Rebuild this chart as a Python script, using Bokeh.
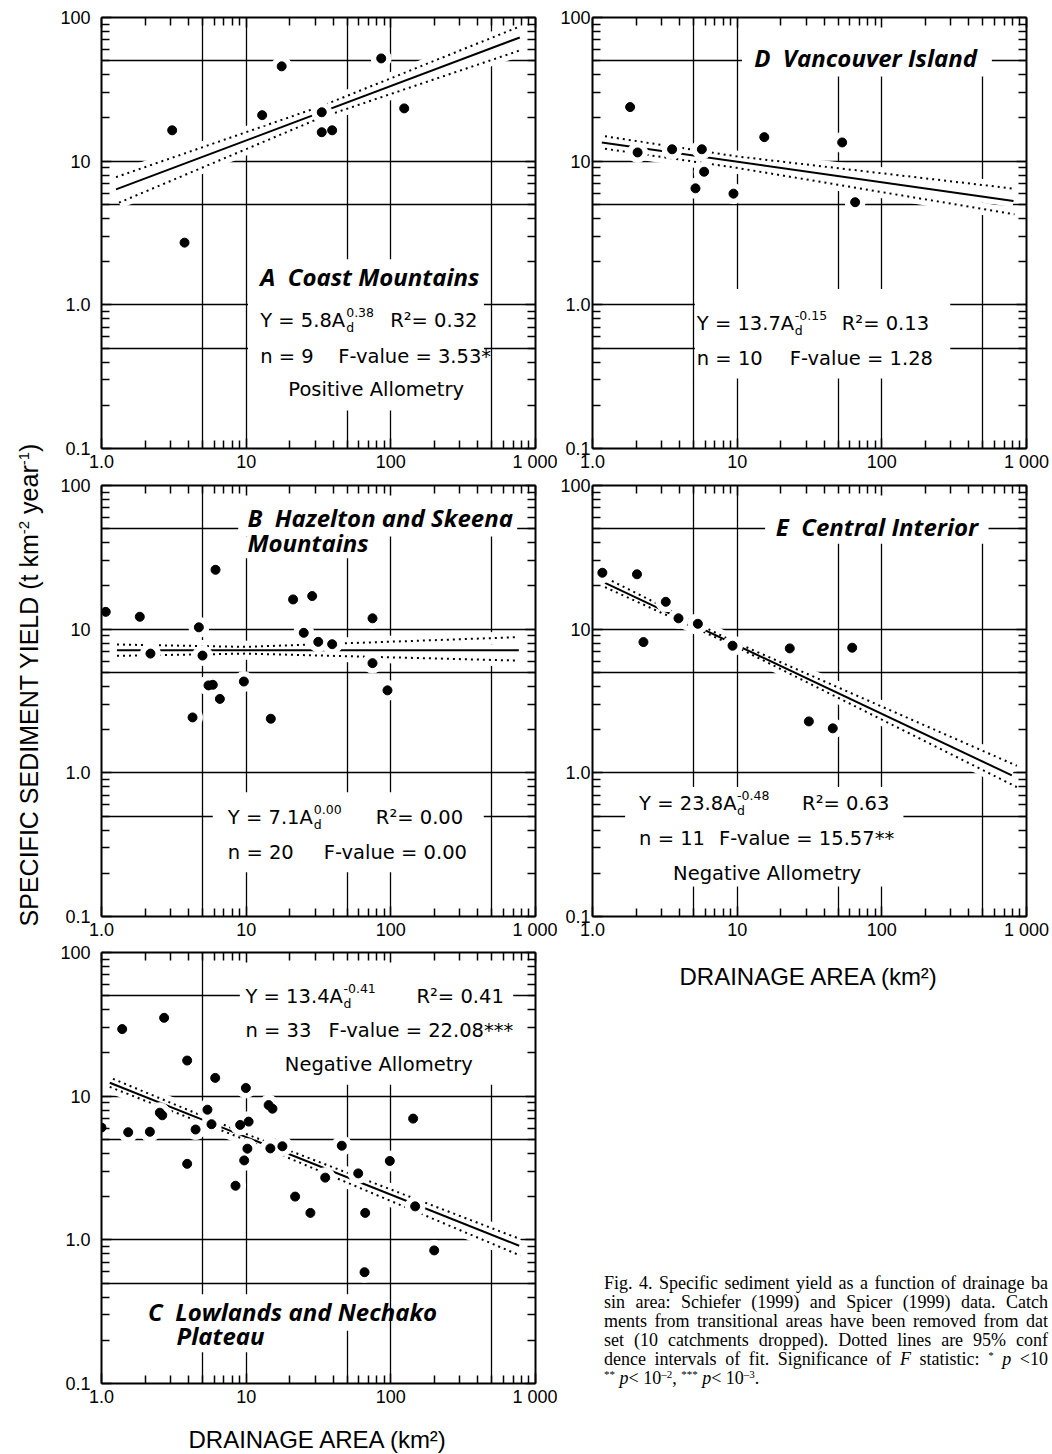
from bokeh.plotting import figure
from bokeh.models import LogAxis, FixedTicker, Label, Div, BasicTickFormatter
from bokeh.layouts import row, column
from bokeh.embed import file_html
from bokeh.resources import INLINE

# ---------------- axes / ticks ----------------
x_tick_values = [1, 10, 100, 1000]
x_tick_labels = ["1.0", "10", "100", "1 000"]
y_tick_values = [0.1, 1, 10, 100]
y_tick_labels = ["0.1", "1.0", "10", "100"]
x_minor_ticks = [m * d for d in (1, 10, 100) for m in range(2, 10)]
y_minor_ticks = [round(m * d, 3) for d in (0.1, 1, 10) for m in range(2, 10)]
x_grid_values = [5, 10, 50, 100, 500]
y_grid_values = [0.5, 1, 5, 10, 50]

x_axis_title = "DRAINAGE AREA (km²)"
y_axis_title_html = "SPECIFIC SEDIMENT YIELD (t km<sup>-2</sup> year<sup>-1</sup>)"

# ---------------- A  Coast Mountains ----------------
a_area = [3.08, 3.75, 12.9, 17.6, 33.3, 33.3, 39.3, 85.8, 123.7]
a_yield = [16.4, 2.71, 20.9, 45.7, 21.9, 15.9, 16.4, 51.9, 23.3]
a_fit_x = [1.26, 779]
a_fit_y = [6.36, 72.6]
a_up_x = [1.26, 33.3, 779]
a_up_y = [7.74, 24.2, 86.6]
a_lo_x = [1.32, 33.3, 779]
a_lo_y = [5.14, 20.2, 59.0]

# ---------------- D  Vancouver Island ----------------
d_area = [1.82, 2.05, 3.55, 5.15, 5.7, 5.91, 9.43, 15.4, 53.2, 65.4]
d_yield = [23.8, 11.5, 12.1, 6.47, 12.1, 8.44, 5.94, 14.7, 13.5, 5.18]
d_fit_x = [1.16, 813]
d_fit_y = [13.5, 5.28]
d_up_x = [1.22, 9.9, 826]
d_up_y = [14.9, 10.8, 6.43]
d_lo_x = [1.22, 9.9, 826]
d_lo_y = [12.2, 8.99, 4.27]

# ---------------- B  Hazelton and Skeena Mountains ----------------
b_area = [1.07, 1.84, 2.18, 4.26, 4.71, 4.99, 5.49, 5.88, 6.14, 6.58,
          9.64, 14.8, 21.1, 25.0, 28.6, 31.5, 39.3, 74.7, 74.7, 94.8]
b_yield = [13.2, 12.2, 6.76, 2.43, 10.3, 6.55, 4.06, 4.1, 25.9, 3.27,
           4.32, 2.38, 16.1, 9.43, 17.0, 8.16, 7.86, 11.9, 5.8, 3.75]
b_fit_x = [1.28, 767]
b_fit_y = [7.13, 7.13]
b_up_x = [1.28, 9.9, 767]
b_up_y = [7.82, 7.53, 8.8]
b_lo_x = [1.28, 9.9, 767]
b_lo_y = [6.52, 6.76, 6.04]

# ---------------- E  Central Interior ----------------
e_area = [1.17, 2.03, 2.25, 3.21, 3.93, 5.35, 9.29, 23.1, 31.3, 45.8, 62.4]
e_yield = [24.7, 24.1, 8.13, 15.5, 11.9, 10.9, 7.67, 7.35, 2.28, 2.04, 7.43]
e_fit_x = [1.22, 792]
e_fit_y = [21.0, 0.96]
e_up_x = [1.25, 9.3, 857]
e_up_y = [22.6, 8.25, 1.12]
e_lo_x = [1.22, 9.3, 857]
e_lo_y = [19.6, 7.75, 0.796]

# ---------------- C  Lowlands and Nechako Plateau ----------------
c_area = [1.0, 1.39, 1.53, 2.16, 2.53, 2.63, 2.71, 3.91, 3.91, 4.47, 5.40, 5.76,
          6.11, 8.44, 9.09, 9.69, 9.95, 10.4, 10.2, 14.3, 15.2, 14.7, 17.8, 21.8,
          27.8, 35.2, 45.8, 59.5, 66.5, 65.8, 98.4, 142.6, 147.3, 199.4]
c_yield = [6.05, 29.3, 5.61, 5.65, 7.67, 7.36, 35.1, 17.7, 3.38, 5.86, 8.05, 6.38,
           13.4, 2.38, 6.31, 3.57, 11.4, 6.65, 4.31, 8.67, 8.18, 4.33, 4.48, 2.0,
           1.54, 2.71, 4.52, 2.90, 1.54, 0.595, 3.54, 6.98, 1.71, 0.844]
c_fit_x = [1.14, 771]
c_fit_y = [12.4, 0.91]
c_up_x = [1.20, 10, 788]
c_up_y = [13.2, 5.45, 1.01]
c_lo_x = [1.14, 10, 788]
c_lo_y = [11.6, 4.95, 0.776]

TICK_FONT = "Liberation Sans"
STAT_FONT = "DejaVu Sans"
TITLE_FONT = "Open Sans"
STAT_SIZE = "19.5px"
SMALL_SIZE = "12.5px"
TITLE_SIZE = "24px"


def style_axis(ax, ticks, minor, labels, show, standoff):
    ax.ticker = FixedTicker(ticks=ticks, minor_ticks=minor)
    ax.formatter = BasicTickFormatter()
    ax.axis_line_width = 2
    ax.axis_line_color = "black"
    ax.major_tick_in = 10
    ax.major_tick_out = 0
    ax.minor_tick_in = 8
    ax.minor_tick_out = 0
    ax.major_tick_line_width = 1.5
    ax.minor_tick_line_width = 1.5
    ax.major_tick_line_color = "black"
    ax.minor_tick_line_color = "black"
    if show:
        ax.major_label_overrides = dict(zip(ticks, labels))
        ax.major_label_text_font = TICK_FONT
        ax.major_label_text_font_size = "18px"
        ax.major_label_text_color = "black"
        ax.major_label_standoff = standoff
    else:
        ax.major_label_text_font_size = "1px"
        ax.major_label_text_color = None
        ax.major_label_standoff = 0


def add_text(p, text, x, y, font=STAT_FONT, size=STAT_SIZE, style="normal",
             align="left", dx=0, dy=0):
    p.add_layout(Label(x=x, y=y, text=text, x_offset=dx, y_offset=dy,
                       text_font=font, text_font_size=size, text_font_style=style,
                       text_align=align, text_baseline="middle", text_color="black"))


def add_equation(p, x, y, main, sup, rest, sup_dx, rest_dx):
    add_text(p, main, x, y)
    add_text(p, "d", x, y, size=SMALL_SIZE, dx=sup_dx, dy=-7)
    add_text(p, sup, x, y, size=SMALL_SIZE, dx=sup_dx, dy=8)
    add_text(p, rest, x, y, dx=rest_dx)


def make_panel(area, yld, fit, up, lo, boxes, borders, y_standoff):
    left, right, top, bottom = borders
    p = figure(x_axis_type="log", y_axis_type="log", x_range=(1, 1000),
               y_range=(0.1, 100), frame_width=434, frame_height=431,
               min_border_left=left, min_border_right=right,
               min_border_top=top, min_border_bottom=bottom,
               toolbar_location=None, output_backend="svg")
    p.outline_line_color = None
    p.background_fill_color = "white"
    p.border_fill_color = "white"
    bottom_ax = p.below[0]
    style_axis(bottom_ax, x_tick_values, x_minor_ticks, x_tick_labels, True, 3)
    style_axis(p.left[0], y_tick_values, y_minor_ticks, y_tick_labels, True, y_standoff)
    top_ax = LogAxis()
    right_ax = LogAxis()
    style_axis(top_ax, x_tick_values, x_minor_ticks, x_tick_labels, False, 0)
    style_axis(right_ax, y_tick_values, y_minor_ticks, y_tick_labels, False, 0)
    p.add_layout(top_ax, "above")
    p.add_layout(right_ax, "right")
    p.xgrid.ticker = FixedTicker(ticks=x_grid_values)
    p.ygrid.ticker = FixedTicker(ticks=y_grid_values)
    p.grid.grid_line_color = "black"
    p.grid.grid_line_width = 1.3
    p.grid.minor_grid_line_color = None

    # white backgrounds behind text blocks (interrupt the grid, as in the original)
    if boxes:
        p.quad(left=[b[0] for b in boxes], right=[b[1] for b in boxes],
               top=[b[2] for b in boxes], bottom=[b[3] for b in boxes],
               fill_color="white", line_color=None)

    (fx, fy), (ux, uy), (lx, ly) = fit, up, lo
    for xs, ys in ((ux, uy), (lx, ly), (fx, fy)):
        p.line(xs, ys, line_color="white", line_width=12)
    p.line(ux, uy, line_color="black", line_width=2, line_dash="2 4")
    p.line(lx, ly, line_color="black", line_width=2, line_dash="2 4")
    p.line(fx, fy, line_color="black", line_width=2)

    p.scatter(area, yld, size=20, color="white")
    p.scatter(area, yld, size=9, color="black")
    return p, bottom_ax


def style_axis_label(ax, text, standoff):
    ax.axis_label = text
    ax.axis_label_text_font = TICK_FONT
    ax.axis_label_text_font_size = "24px"
    ax.axis_label_text_font_style = "normal"
    ax.axis_label_text_color = "black"
    ax.axis_label_standoff = standoff


LABEL_W = 50
LEFT_B = 51
RIGHT_L = 22
LEFT_R = 33
RIGHT_R = 24

# ---- Panel A ----
pA, _ = make_panel(a_area, a_yield, (a_fit_x, a_fit_y), (a_up_x, a_up_y), (a_lo_x, a_lo_y),
                   [(10.3, 440, 2.08, 0.184)], (LEFT_B, RIGHT_L, 17, 26), 11)
add_text(pA, "A\u00a0\u00a0Coast Mountains", 12.5, 1.57, TITLE_FONT, TITLE_SIZE, "bold italic")
add_equation(pA, 12.5, 0.774, "Y = 5.8A", "0.38", "R²= 0.32", 86, 130)
add_text(pA, "n = 9", 12.5, 0.437)
add_text(pA, "F-value = 3.53*", 12.5, 0.437, dx=78)
add_text(pA, "Positive Allometry", 79.2, 0.259, align="center")

# ---- Panel B ----
pB, _ = make_panel(b_area, b_yield, (b_fit_x, b_fit_y), (b_up_x, b_up_y), (b_lo_x, b_lo_y),
                   [(8.81, 747, 100, 44.1), (8.81, 74, 44.1, 31.1), (5.88, 439, 0.733, 0.203)],
                   (LEFT_B, RIGHT_L, 11, 26), 11)
add_text(pB, "B\u00a0\u00a0Hazelton and Skeena", 10.2, 59.9, TITLE_FONT, TITLE_SIZE, "bold italic")
add_text(pB, "Mountains", 10.2, 40.3, TITLE_FONT, TITLE_SIZE, "bold italic")
add_equation(pB, 7.47, 0.491, "Y = 7.1A", "0.00", "R²= 0.00", 86, 148)
add_text(pB, "n = 20", 7.47, 0.28)
add_text(pB, "F-value = 0.00", 7.47, 0.28, dx=96)

# ---- Panel C ----
pC, c_bottom = make_panel(c_area, c_yield, (c_fit_x, c_fit_y), (c_up_x, c_up_y), (c_lo_x, c_lo_y),
                          [(9.04, 701, 100, 12.0), (1.79, 73.5, 0.418, 0.233), (1.79, 15, 0.233, 0.165)],
                          (LEFT_B, RIGHT_L, 10, 71), 11)
add_equation(pC, 9.89, 49.7, "Y = 13.4A", "-0.41", "R²= 0.41", 98, 171)
add_text(pC, "n = 33", 9.89, 28.5)
add_text(pC, "F-value = 22.08***", 9.89, 28.5, dx=83)
add_text(pC, "Negative Allometry", 82.6, 16.7, align="center")
add_text(pC, "C\u00a0\u00a0Lowlands and Nechako", 2.10, 0.315, TITLE_FONT, TITLE_SIZE, "bold italic")
add_text(pC, "Plateau", 3.30, 0.216, TITLE_FONT, TITLE_SIZE, "bold italic")
style_axis_label(c_bottom, x_axis_title, 16)

# ---- Panel D ----
pD, _ = make_panel(d_area, d_yield, (d_fit_x, d_fit_y), (d_up_x, d_up_y), (d_lo_x, d_lo_y),
                   [(10.8, 576, 100, 38.8), (5.1, 297, 1.29, 0.307)],
                   (LEFT_R, RIGHT_R, 17, 26), 2)
add_text(pD, "D\u00a0\u00a0Vancouver Island", 13.1, 52.8, TITLE_FONT, TITLE_SIZE, "bold italic")
add_equation(pD, 5.26, 0.739, "Y = 13.7A", "-0.15", "R²= 0.13", 98, 145)
add_text(pD, "n = 10", 5.26, 0.423)
add_text(pD, "F-value = 1.28", 5.26, 0.423, dx=93)

# ---- Panel E ----
pE, e_bottom = make_panel(e_area, e_yield, (e_fit_x, e_fit_y), (e_up_x, e_up_y), (e_lo_x, e_lo_y),
                          [(15.6, 546, 100, 39.3), (1.68, 141, 0.796, 0.162)],
                          (LEFT_R, RIGHT_R, 11, 80), 2)
add_text(pE, "E\u00a0\u00a0Central Interior", 18.5, 51.8, TITLE_FONT, TITLE_SIZE, "bold italic")
add_equation(pE, 2.10, 0.611, "Y = 23.8A", "-0.48", "R²= 0.63", 98, 163)
add_text(pE, "n = 11", 2.10, 0.35)
add_text(pE, "F-value = 15.57**", 2.10, 0.35, dx=80)
add_text(pE, "Negative Allometry", 16.1, 0.20, align="center")
style_axis_label(e_bottom, x_axis_title, 20)

# ---- shared y-axis title (spans all left-column panels) ----
y_title = Div(
    text=('<div style="position:relative;width:%dpx;height:1454px;">'
          '<div style="position:absolute;left:30px;top:685px;white-space:nowrap;'
          "transform:translate(-50%%,-50%%) rotate(-90deg);"
          "font-family:'Liberation Sans',sans-serif;font-size:25px;color:#000;\">"
          '%s</div></div>') % (LABEL_W, y_axis_title_html.replace(
              "<sup>", '<sup style="font-size:15px;line-height:0;">')),
    width=LABEL_W, height=1454, margin=(0, 0, 0, 0))

# ---- caption (as far as it is visible in the original) ----
caption_lines = [
    "Fig. 4. Specific sediment yield as a function of drainage ba",
    "sin area: Schiefer (1999) and Spicer (1999) data. Catch",
    "ments from transitional areas have been removed from dat",
    "set (10 catchments dropped). Dotted lines are 95% conf",
    "dence intervals of fit. Significance of <i>F</i> statistic: {s}*</sup> <i>p</i> &lt;10",
    "{s}**</sup> <i>p</i>&lt; 10{s}–2</sup>, {s}***</sup> <i>p</i>&lt; 10{s}–3</sup>.",
]
sup = '<sup style="font-size:11px;line-height:0;vertical-align:6px;">'
just = '<div style="white-space:nowrap;text-align:justify;text-align-last:justify;">'
plain = '<div style="white-space:nowrap;">'
body = "".join((just if i < len(caption_lines) - 1 else plain) + ln.format(s=sup) + "</div>"
               for i, ln in enumerate(caption_lines))
caption_html = (
    '<div style="margin-left:47px;margin-top:278px;width:444px;'
    "font-family:'Liberation Serif',serif;font-size:18px;line-height:19px;color:#000;\">"
    + body + "</div>"
)
caption = Div(text=caption_html, width=493, height=458, margin=(0, 0, 0, 0),
              styles={"overflow": "hidden"})

layout = row(y_title, column(pA, pB, pC), column(pD, pE, caption))
open("out.html", "w").write(file_html(layout, INLINE))
